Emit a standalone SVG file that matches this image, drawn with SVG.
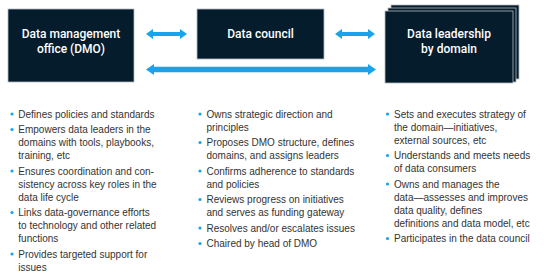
<svg xmlns="http://www.w3.org/2000/svg" width="544" height="280" viewBox="0 0 544 280">
<style>
.box{fill:#051c2c;stroke:#b4bcc3;stroke-width:0.8}
.ttl{font-family:Roboto,"Liberation Sans",Arial,sans-serif;font-weight:500;font-size:12px;fill:#ffffff;text-anchor:middle}
.txt{font-family:"Liberation Sans",Arial,sans-serif;font-size:10px;fill:#333333}
.dot{fill:#1aa3ec}
.arr{fill:#1aa3ec}
</style>
<rect width="544" height="280" fill="#ffffff"/>
<g id="dmo">
<rect class="box" x="8" y="9" width="126" height="73"/>
<text class="ttl" x="71" y="37.5">Data management</text>
<text class="ttl" x="71" y="52.5">office (DMO)</text>
</g>
<g id="council">
<rect class="box" x="197" y="9" width="127" height="50"/>
<text class="ttl" x="260.5" y="37.5">Data council</text>
</g>
<g id="leadership">
<rect class="box" x="391" y="5" width="128" height="74"/>
<rect class="box" x="388" y="8" width="128" height="74"/>
<rect class="box" x="385" y="11" width="128" height="72"/>
<text class="ttl" x="449" y="37.5">Data leadership</text>
<text class="ttl" x="449" y="52.5">by domain</text>
</g>
<g id="connectors">
<polygon class="arr" points="146,34 153,29 153,32 180,32 180,29 187,34 180,39 180,36 153,36 153,39"/>
<polygon class="arr" points="335,34 342,29 342,32 368,32 368,29 375,34 368,39 368,36 342,36 342,39"/>
<polygon class="arr" points="146,69.5 154,64 154,66.8 368,66.8 368,64 376,69.5 368,75 368,72.2 154,72.2 154,75"/>
</g>
<g id="list-dmo">
<circle class="dot" cx="12" cy="114" r="1.6"/>
<text class="txt" x="18.3" y="117.5">Defines policies and standards</text>
<circle class="dot" cx="12" cy="129.5" r="1.6"/>
<text class="txt" x="18.3" y="133">Empowers data leaders in the</text>
<text class="txt" x="18.3" y="146">domains with tools, playbooks,</text>
<text class="txt" x="18.3" y="159">training, etc</text>
<circle class="dot" cx="12" cy="171" r="1.6"/>
<text class="txt" x="18.3" y="174.5">Ensures coordination and con-</text>
<text class="txt" x="18.3" y="187.5">sistency across key roles in the</text>
<text class="txt" x="18.3" y="200.5">data life cycle</text>
<circle class="dot" cx="12" cy="212.5" r="1.6"/>
<text class="txt" x="18.3" y="216">Links data-governance efforts</text>
<text class="txt" x="18.3" y="229">to technology and other related</text>
<text class="txt" x="18.3" y="242">functions</text>
<circle class="dot" cx="12" cy="254" r="1.6"/>
<text class="txt" x="18.3" y="257.5">Provides targeted support for</text>
<text class="txt" x="18.3" y="270.5">issues</text>
</g>
<g id="list-council">
<circle class="dot" cx="200" cy="114" r="1.6"/>
<text class="txt" x="206.5" y="117.5">Owns strategic direction and</text>
<text class="txt" x="206.5" y="130.5">principles</text>
<circle class="dot" cx="200" cy="142.5" r="1.6"/>
<text class="txt" x="206.5" y="146">Proposes DMO structure, defines</text>
<text class="txt" x="206.5" y="159">domains, and assigns leaders</text>
<circle class="dot" cx="200" cy="171" r="1.6"/>
<text class="txt" x="206.5" y="174.5">Confirms adherence to standards</text>
<text class="txt" x="206.5" y="187.5">and policies</text>
<circle class="dot" cx="200" cy="199.5" r="1.6"/>
<text class="txt" x="206.5" y="203">Reviews progress on initiatives</text>
<text class="txt" x="206.5" y="216">and serves as funding gateway</text>
<circle class="dot" cx="200" cy="228" r="1.6"/>
<text class="txt" x="206.5" y="231.5">Resolves and/or escalates issues</text>
<circle class="dot" cx="200" cy="243.5" r="1.6"/>
<text class="txt" x="206.5" y="247">Chaired by head of DMO</text>
</g>
<g id="list-leadership">
<circle class="dot" cx="387.5" cy="114" r="1.6"/>
<text class="txt" x="394" y="117.5">Sets and executes strategy of</text>
<text class="txt" x="394" y="130.5">the domain—initiatives,</text>
<text class="txt" x="394" y="143.5">external sources, etc</text>
<circle class="dot" cx="387.5" cy="155.5" r="1.6"/>
<text class="txt" x="394" y="159">Understands and meets needs</text>
<text class="txt" x="394" y="172">of data consumers</text>
<circle class="dot" cx="387.5" cy="184" r="1.6"/>
<text class="txt" x="394" y="187.5">Owns and manages the</text>
<text class="txt" x="394" y="200.5">data—assesses and improves</text>
<text class="txt" x="394" y="213.5">data quality, defines</text>
<text class="txt" x="394" y="226.5">definitions and data model, etc</text>
<circle class="dot" cx="387.5" cy="238.5" r="1.6"/>
<text class="txt" x="394" y="242">Participates in the data council</text>
</g>
</svg>
